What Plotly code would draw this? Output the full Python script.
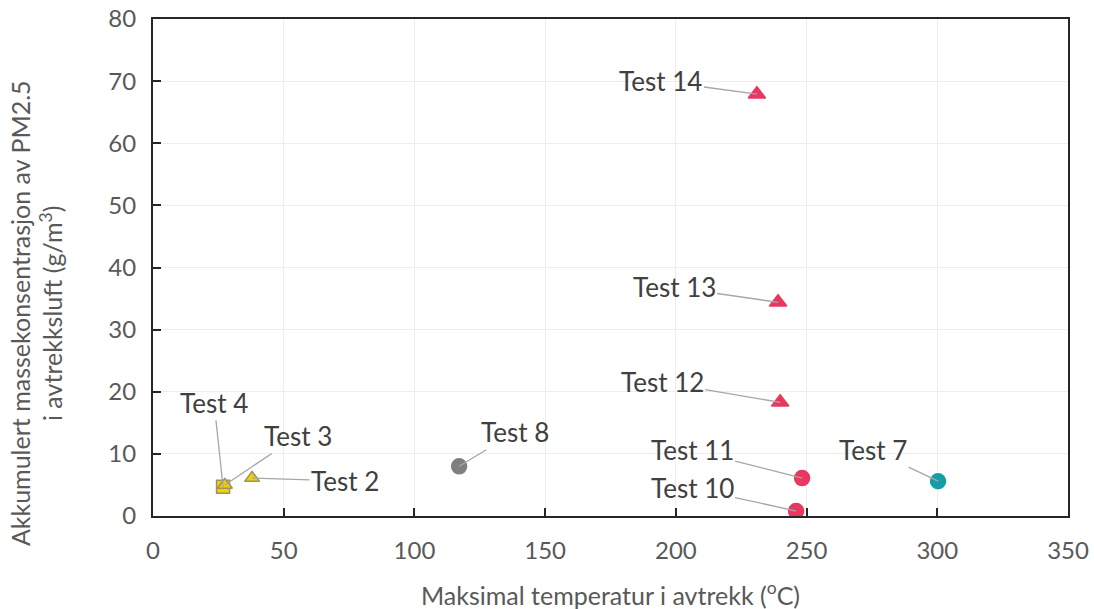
import plotly.graph_objects as go

labels = ["Test 4", "Test 3", "Test 2", "Test 8", "Test 10", "Test 11", "Test 12", "Test 13", "Test 14", "Test 7"]
temp = [26.8, 27.5, 37.9, 117.1, 246.0, 248.3, 239.9, 239.1, 231.0, 300.3]
pm = [4.7, 5.0, 6.1, 8.0, 0.8, 6.1, 18.3, 34.4, 67.9, 5.6]
symbols = ["square", "triangle-up", "triangle-up", "circle", "circle", "circle",
           "triangle-up", "triangle-up", "triangle-up", "circle"]
fills = ["#F5D000", "#F5D000", "#F5D000", "#7F7F7F", "#E8385F", "#E8385F",
         "#E8385F", "#E8385F", "#E8385F", "#139DA5"]
lines = ["#9C9360", "#9C9360", "#9C9360", "#7F7F7F", "#E8385F", "#E8385F",
         "#E8385F", "#E8385F", "#E8385F", "#139DA5"]
sizes = [13, 13, 13, 15, 15, 15, 15, 15, 15, 15]
# label offsets in pixels (text centre relative to point)
label_ax = [-9, 73, 93, 56, -104, -110, -118, -104, -96, -65]
label_ay = [-84, -49, 3, -34, -23, -28, -20, -15, -13, -31]

x_ticks = [0, 50, 100, 150, 200, 250, 300, 350]
y_ticks = [0, 10, 20, 30, 40, 50, 60, 70, 80]

x_title = "Maksimal temperatur i avtrekk (<sup>o</sup>C)"
y_title = "Akkumulert massekonsentrasjon av PM2.5<br>i avtrekksluft (g/m<sup>3</sup>)"

FONT = "Lato, 'Open Sans', sans-serif"

fig = go.Figure()
fig.add_trace(go.Scatter(
    x=temp, y=pm, mode="markers",
    marker=dict(symbol=symbols, color=fills, size=sizes, opacity=1,
                line=dict(color=lines, width=1.5)),
    showlegend=False, hoverinfo="text", text=labels,
))

for lab, xv, yv, ax, ay in zip(labels, temp, pm, label_ax, label_ay):
    fig.add_annotation(
        x=xv, y=yv, text=lab, showarrow=True, arrowhead=0, arrowwidth=1.3,
        arrowcolor="#A6A6A6", ax=ax, ay=ay, standoff=0,
        font=dict(family=FONT, size=26, color="#404040"),
    )

fig.add_annotation(
    xref="paper", yref="paper", x=0.5, y=-0.155, text=x_title, showarrow=False,
    xanchor="center", yanchor="middle",
    font=dict(family=FONT, size=25, color="#595959"),
)
fig.add_annotation(
    xref="paper", yref="paper", x=-0.128, y=0.408, text=y_title, showarrow=False,
    xanchor="center", yanchor="middle", textangle=-90,
    font=dict(family=FONT, size=25, color="#595959"),
)

axis_common = dict(
    showgrid=True, gridcolor="#EDEDED", gridwidth=1, zeroline=False,
    showline=True, linecolor="#262626", linewidth=2, mirror=True,
    ticks="inside", ticklen=8, tickcolor="#262626", tickwidth=1.5,
    tickfont=dict(family=FONT, size=24, color="#595959"), automargin=False,
    ticklabeloverflow="allow",
)

fig.update_layout(
    width=1094, height=609,
    margin=dict(l=153, r=26, t=19, b=93),
    paper_bgcolor="white", plot_bgcolor="white",
    font=dict(family=FONT, color="#595959"),
    xaxis=dict(range=[0, 350], tickvals=x_ticks, ticklabelstandoff=12, **axis_common),
    yaxis=dict(range=[0, 80], tickvals=y_ticks, ticklabelstandoff=10, **axis_common),
)

fig.write_html(
    "out.html",
    config={"displayModeBar": False},
    post_script="document.body.style.margin='0';document.body.style.overflow='hidden';",
)
